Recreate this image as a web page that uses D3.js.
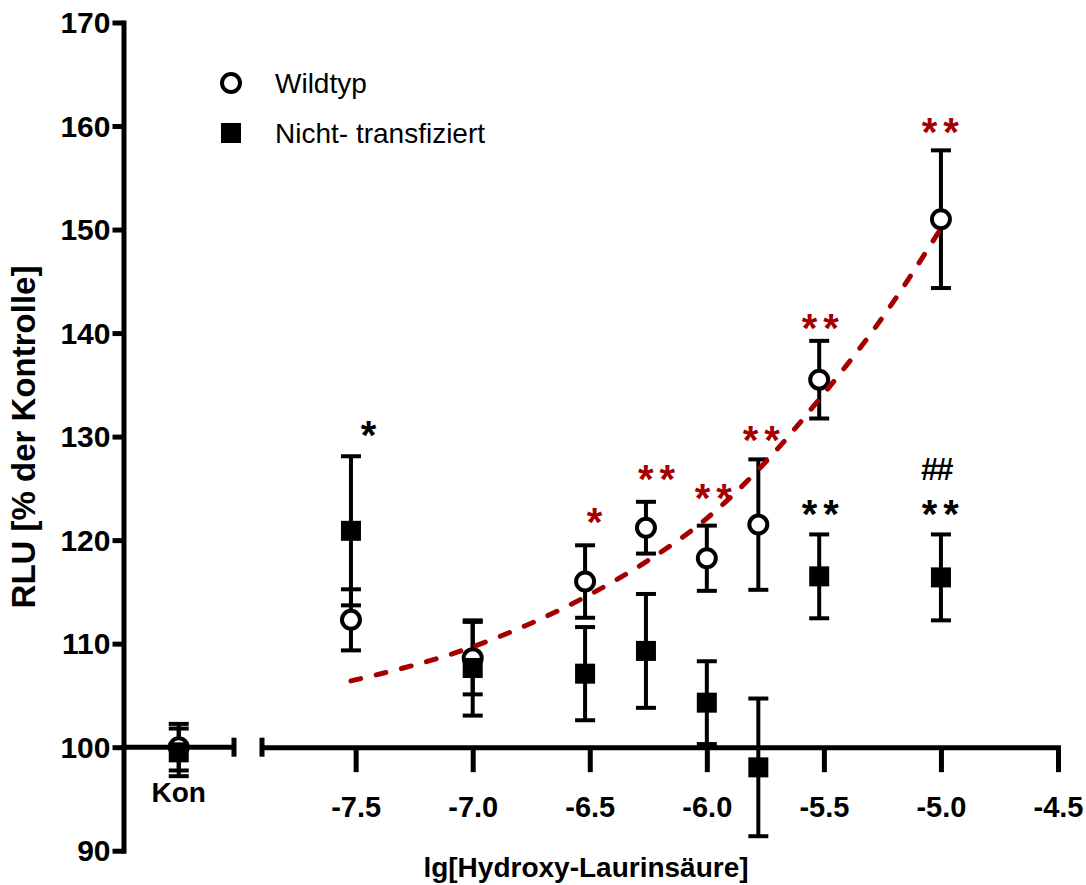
<!DOCTYPE html>
<html>
<head>
<meta charset="utf-8">
<script src="https://cdn.jsdelivr.net/npm/d3@7"></script>
<style>
  body { margin: 0; background: #fff; }
  svg { display: block; font-family: "Liberation Sans", Arial, sans-serif; }
</style>
</head>
<body>
<script>
// concentrations (lg mol/l) shared by both series
const concs = [-7.52, -7.0, -6.52, -6.26, -6.0, -5.78, -5.52, -5.0];

const wtMean = [112.3, 108.6, 116.0, 121.2, 118.25, 121.5, 135.5, 151.0];
const wtSem  = [2.95, 3.5, 3.5, 2.5, 3.15, 6.3, 3.75, 6.65];
const ntMean = [120.9, 107.65, 107.1, 109.3, 104.3, 98.05, 116.5, 116.4];
const ntSem  = [7.2, 4.6, 4.5, 5.5, 4.0, 6.65, 4.05, 4.15];

// control group (left axis segment)
const konCats = ["Kon"];
const konWt = {mean: 100, sem: 2.25};
const konNt = {mean: 99.5, sem: 2.3};

// fitted curve
const fitX = [-7.52, -7.0, -6.52, -6.26, -6.0, -5.78, -5.52, -5.25, -5.0];
const fitY = [106.4, 109.7, 114.5, 117.9, 122.1, 126.8, 133.6, 141.5, 150.1];

const xTicks = [-7.5, -7.0, -6.5, -6.0, -5.5, -5.0, -4.5];
const yTicks = [90, 100, 110, 120, 130, 140, 150, 160, 170];

// significance marks: x (lg), y (RLU) of the glyph centre
const marks = [
  {x: -7.445, y: 131.0, t: "*",  c: "black"},
  {x: -6.48,  y: 122.6, t: "*",  c: "red"},
  {x: -6.215, y: 126.8, t: "**", c: "red"},
  {x: -5.972, y: 124.9, t: "**", c: "red"},
  {x: -5.767, y: 130.5, t: "**", c: "red"},
  {x: -5.515, y: 141.4, t: "**", c: "red"},
  {x: -5.003, y: 160.3, t: "**", c: "red"},
  {x: -5.515, y: 123.4, t: "**", c: "black"},
  {x: -5.003, y: 123.4, t: "**", c: "black"},
  {x: -5.02,  y: 126.7, t: "##", c: "black"}
];

const legendItems = ["Wildtyp", "Nicht- transfiziert"];

const drawViz = () => {
	const width = 1086;
	const height = 885;
	const red = "#a50000";
	const lw = 5;

	const svg = d3.select("body")
	  .append("svg")
	  .attr("width", width)
	  .attr("height", height);

	const y = d3.scaleLinear().domain([90, 170]).range([850.7, 22.5]);
	const x = d3.scaleLinear().domain([-7.9, -4.5]).range([262, 1058]);
	const axisX = 123.5;
	const kon = d3.scalePoint().domain(konCats).range([axisX, 234]).padding(0.5);
	const y0 = y(100);

	// y axis
	const gy = svg.append("g")
		.attr("transform", `translate(${axisX},0)`)
		.call(d3.axisLeft(y).tickValues(yTicks).tickSize(11).tickSizeOuter(0).tickPadding(2));
	gy.select(".domain").attr("stroke-width", lw).attr("stroke-linecap", "square");
	gy.selectAll(".tick line").attr("stroke-width", lw);
	gy.selectAll(".tick text")
		.attr("font-size", 30).attr("font-weight", "bold").attr("font-family", null)
		.attr("dy", "0.34em");

	// x axis, right segment
	const gx = svg.append("g")
		.attr("transform", `translate(0,${y0})`)
		.call(d3.axisBottom(x).tickValues(xTicks).tickSize(25).tickSizeOuter(0)
			.tickFormat(d => d.toFixed(1)));
	gx.select(".domain").attr("stroke-width", lw).attr("stroke-linecap", "square");
	gx.selectAll(".tick line").attr("stroke-width", lw);
	gx.selectAll(".tick text")
		.attr("font-size", 29).attr("font-weight", "bold").attr("font-family", null)
		.attr("dy", null).attr("y", 70);

	// break caps
	svg.append("line")
		.attr("x1", x.range()[0]).attr("x2", x.range()[0])
		.attr("y1", y0 - 9.5).attr("y2", y0 + 9.5)
		.attr("stroke", "black").attr("stroke-width", lw);

	// x axis, left (control) segment
	svg.append("line")
		.attr("x1", axisX).attr("x2", kon.range()[1])
		.attr("y1", y0).attr("y2", y0)
		.attr("stroke", "black").attr("stroke-width", lw);
	svg.append("line")
		.attr("x1", kon.range()[1]).attr("x2", kon.range()[1])
		.attr("y1", y0 - 9.5).attr("y2", y0 + 9.5)
		.attr("stroke", "black").attr("stroke-width", lw);
	svg.append("text")
		.attr("x", kon("Kon")).attr("y", 802)
		.attr("text-anchor", "middle")
		.attr("font-size", 28).attr("font-weight", "bold")
		.text("Kon");

	// titles
	svg.append("text")
		.attr("x", 586).attr("y", 877)
		.attr("text-anchor", "middle")
		.attr("font-size", 28).attr("font-weight", "bold")
		.text("lg[Hydroxy-Laurinsäure]");
	svg.append("text")
		.attr("transform", "translate(35,437) rotate(-90)")
		.attr("text-anchor", "middle")
		.attr("font-size", 33).attr("font-weight", "bold")
		.text("RLU [% der Kontrolle]");

	const wt = concs.map((c, i) => ({px: x(c), mean: wtMean[i], sem: wtSem[i]}));
	const nt = concs.map((c, i) => ({px: x(c), mean: ntMean[i], sem: ntSem[i]}));
	wt.unshift({px: kon("Kon"), mean: konWt.mean, sem: konWt.sem});
	nt.unshift({px: kon("Kon"), mean: konNt.mean, sem: konNt.sem});

	function errorBars(data) {
		const g = svg.append("g").attr("stroke", "black").attr("stroke-width", 4);
		g.selectAll(".v").data(data).enter().append("line")
			.attr("x1", d => d.px).attr("x2", d => d.px)
			.attr("y1", d => y(d.mean - d.sem)).attr("y2", d => y(d.mean + d.sem));
		g.selectAll(".cap").data(data.flatMap(d => [
				{px: d.px, v: d.mean - d.sem}, {px: d.px, v: d.mean + d.sem}]))
			.enter().append("line")
			.attr("x1", d => d.px - 10).attr("x2", d => d.px + 10)
			.attr("y1", d => y(d.v)).attr("y2", d => y(d.v));
	}
	errorBars(wt);
	errorBars(nt);

	svg.append("g").selectAll("circle")
		.data(wt).enter().append("circle")
		.attr("cx", d => d.px).attr("cy", d => y(d.mean)).attr("r", 9)
		.attr("fill", "white").attr("stroke", "black").attr("stroke-width", 4);

	// fitted curve
	const line = d3.line()
		.x(d => x(d[0])).y(d => y(d[1]))
		.curve(d3.curveMonotoneX);
	svg.append("path")
		.attr("d", line(d3.zip(fitX, fitY)))
		.attr("fill", "none")
		.attr("stroke", red)
		.attr("stroke-width", 5)
		.attr("stroke-linecap", "round")
		.attr("stroke-dasharray", "10 16");

	svg.append("g").selectAll("rect")
		.data(nt).enter().append("rect")
		.attr("x", d => d.px - 10).attr("y", d => y(d.mean) - 10)
		.attr("width", 20).attr("height", 20)
		.attr("fill", "black");

	// significance marks
	const sp = 6;
	svg.append("g").selectAll("text")
		.data(marks).enter().append("text")
		.attr("x", d => x(d.x) + (d.t === "**" ? sp / 2 : 0))
		.attr("y", d => y(d.y) + (d.t === "##" ? 9 : 23))
		.attr("text-anchor", "middle")
		.attr("font-weight", "bold")
		.attr("letter-spacing", d => d.t === "**" ? sp : (d.t === "##" ? -2 : 0))
		.attr("font-size", d => d.t === "##" ? 31 : 40)
		.attr("fill", d => d.c === "red" ? red : "black")
		.text(d => d.t);

	// legend
	const lg = svg.append("g").attr("transform", "translate(231,83)");
	lg.append("circle").attr("r", 9)
		.attr("fill", "white").attr("stroke", "black").attr("stroke-width", 4);
	lg.append("rect").attr("x", -10).attr("y", 40).attr("width", 20).attr("height", 20)
		.attr("fill", "black");
	lg.selectAll("text").data(legendItems).enter().append("text")
		.attr("x", 44).attr("y", (d, i) => 10 + i * 50)
		.attr("font-size", 28)
		.text(d => d);
};

drawViz();
</script>
</body>
</html>
